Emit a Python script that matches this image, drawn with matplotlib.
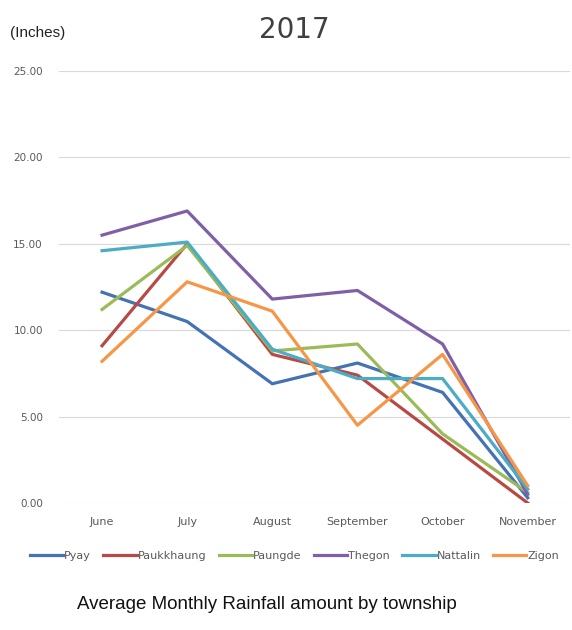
import matplotlib
matplotlib.use('Agg')
import matplotlib.pyplot as plt

months = ['June', 'July', 'August', 'September', 'October', 'November']
townships = ['Pyay', 'Paukkhaung', 'Paungde', 'Thegon', 'Nattalin', 'Zigon']
pyay = [12.2, 10.5, 6.9, 8.1, 6.4, 0.3]
paukkhaung = [9.1, 15.0, 8.6, 7.4, 3.7, 0.0]
paungde = [11.2, 14.9, 8.8, 9.2, 4.0, 0.6]
thegon = [15.5, 16.9, 11.8, 12.3, 9.2, 0.5]
nattalin = [14.6, 15.1, 8.9, 7.2, 7.2, 0.8]
zigon = [8.2, 12.8, 11.1, 4.5, 8.6, 1.0]
yticks = [0, 5, 10, 15, 20, 25]

series = [pyay, paukkhaung, paungde, thegon, nattalin, zigon]
colors = ['#4472B4', '#B84A45', '#9BBB59', '#7E5FA8', '#4BACC6', '#F79646']

fig = plt.figure(figsize=(5.72, 6.3), dpi=100)
ax = fig.add_axes([0.104, 0.2016, 0.893, 0.6857])

x = range(len(months))
for vals, name, c in zip(series, townships, colors):
    ax.plot(x, vals, color=c, lw=2.3, label=name)

ax.set_xlim(-0.5, 5.5)
ax.set_ylim(0, 25)
ax.set_yticks(yticks)
ax.set_yticklabels(['%.2f' % v for v in yticks])
ax.set_xticks(list(x))
ax.set_xticklabels(months)
ax.grid(axis='y', color='#d9d9d9', lw=0.8)
ax.set_axisbelow(True)
for s in ax.spines.values():
    s.set_visible(False)
ax.tick_params(length=0, labelsize=7.5, labelcolor='#595959')
ax.tick_params(axis='y', pad=12)
ax.tick_params(axis='x', labelsize=8, pad=10)

leg = fig.legend(loc='center', bbox_to_anchor=(0.515, 0.118), ncol=6, frameon=False,
                 fontsize=8, handlelength=3, handletextpad=0.1, columnspacing=1.1)
for t in leg.get_texts():
    t.set_color('#595959')

fig.text(0.515, 0.952, '2017', ha='center', va='center', fontsize=20, color='#404040')
fig.text(0.018, 0.948, '(Inches)', ha='left', va='center', fontsize=11, color='#222222',
         family='Liberation Sans')
fig.text(0.467, 0.04, 'Average Monthly Rainfall amount by township', ha='center', va='center',
         fontsize=13.5, color='#111111', family='Liberation Sans')

fig.savefig('out.png', dpi=100)
